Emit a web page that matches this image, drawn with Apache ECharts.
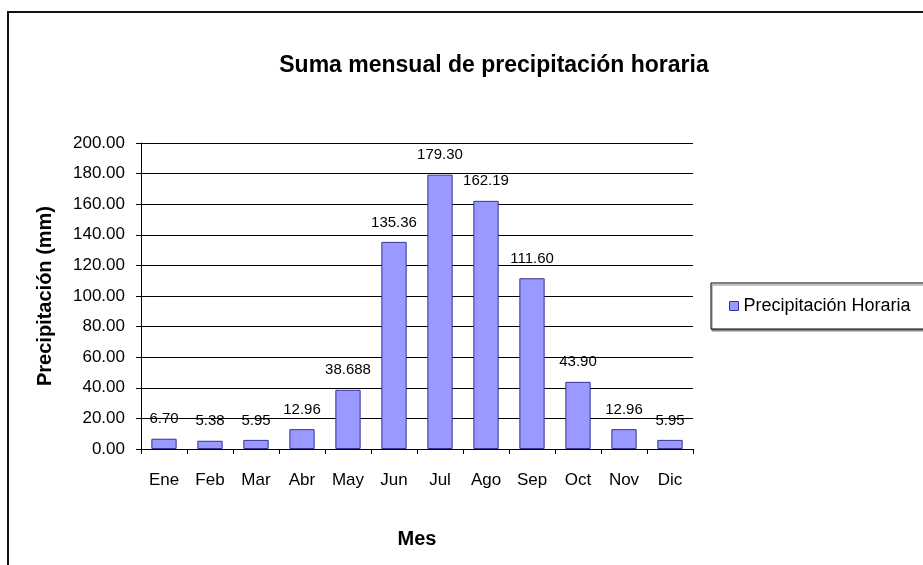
<!DOCTYPE html>
<html>
<head>
<meta charset="utf-8">
<script src="https://cdn.jsdelivr.net/npm/echarts@6/dist/echarts.min.js"></script>
<style>
html,body{margin:0;padding:0;background:#fff;}
#chart{width:923px;height:565px;}
</style>
</head>
<body>
<div id="chart"></div>
<script>
const titleText = 'Suma mensual de precipitación horaria';
const months = ['Ene','Feb','Mar','Abr','May','Jun','Jul','Ago','Sep','Oct','Nov','Dic'];
const precip = [6.70, 5.38, 5.95, 12.96, 38.688, 135.36, 179.30, 162.19, 111.60, 43.90, 12.96, 5.95];
const precipLabels = ['6.70','5.38','5.95','12.96','38.688','135.36','179.30','162.19','111.60','43.90','12.96','5.95'];
const seriesName = 'Precipitación Horaria';
const yTitle = 'Precipitación (mm)';
const xTitle = 'Mes';

const FONT = '"Liberation Sans", Arial, sans-serif';
const chart = echarts.init(document.getElementById('chart'));
chart.setOption({
  animation: false,
  backgroundColor: '#ffffff',
  textStyle: { fontFamily: FONT, color: '#000' },
  title: {
    text: titleText,
    left: 489, top: 49, textAlign: 'center',
    textStyle: { fontFamily: FONT, fontSize: 23, fontWeight: 'bold', color: '#000' }
  },
  graphic: [{
    type: 'rect', silent: true, z: -1,
    shape: { x: 8, y: 12, width: 940, height: 600 },
    style: { fill: 'none', stroke: '#111', lineWidth: 2 }
  }],
  legend: {
    left: 711, top: 283,
    orient: 'vertical',
    padding: [14, 30, 14, 18],
    borderColor: '#000', borderWidth: 1,
    backgroundColor: '#fff',
    shadowColor: '#888', shadowOffsetX: 1, shadowOffsetY: 2, shadowBlur: 0,
    itemWidth: 9, itemHeight: 9,
    icon: 'rect',
    textStyle: { fontFamily: FONT, fontSize: 18, color: '#000' },
    data: [{ name: seriesName, itemStyle: { color: '#9999FF', borderColor: '#333399', borderWidth: 1 } }]
  },
  grid: { left: 141, right: 230, top: 143, bottom: 116 },
  xAxis: {
    type: 'category',
    data: months,
    boundaryGap: true,
    axisLine: { lineStyle: { color: '#000', width: 1 } },
    axisTick: { show: true, alignWithLabel: false, length: 5, lineStyle: { color: '#000' } },
    axisLabel: { color: '#000', fontSize: 17, fontFamily: FONT, margin: 23, interval: 0 },
    name: xTitle, nameLocation: 'middle', nameGap: 80,
    nameTextStyle: { fontFamily: FONT, fontSize: 20, fontWeight: 'bold', color: '#000' }
  },
  yAxis: {
    type: 'value', min: 0, max: 200, interval: 20,
    axisLine: { show: true, lineStyle: { color: '#000', width: 1 } },
    axisTick: { show: true, length: 5, lineStyle: { color: '#000' } },
    axisLabel: { color: '#000', fontSize: 17, fontFamily: FONT, margin: 16, formatter: v => v.toFixed(2) },
    splitLine: { show: true, lineStyle: { color: '#000', width: 1 } },
    name: yTitle, nameLocation: 'middle', nameGap: 86, nameRotate: 90,
    nameTextStyle: { fontFamily: FONT, fontSize: 20, fontWeight: 'bold', color: '#000' }
  },
  series: [{
    type: 'bar',
    name: seriesName,
    data: precip,
    barCategoryGap: '45%',
    itemStyle: { color: '#9999FF', borderColor: '#333399', borderWidth: 1 },
    label: {
      show: true, position: 'top', distance: 12,
      fontFamily: FONT, fontSize: 15, color: '#000',
      formatter: p => precipLabels[p.dataIndex]
    }
  }]
});
</script>
</body>
</html>
